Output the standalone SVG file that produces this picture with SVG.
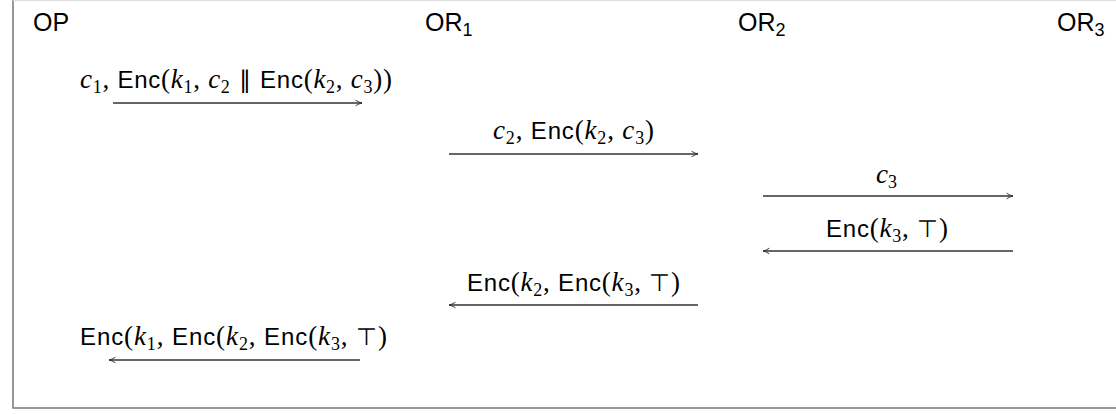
<svg xmlns="http://www.w3.org/2000/svg" width="1116" height="414" viewBox="0 0 1116 414">
<defs>
<style>
.party{font-family:"Liberation Sans",Arial,sans-serif;font-size:25px;fill:#000}
.lbl{font-family:"Liberation Sans",Arial,sans-serif;font-size:24px;fill:#000}
.m{font-family:"Liberation Serif","Times New Roman",serif;font-style:italic;font-size:27px}
.r{font-family:"Liberation Serif","Times New Roman",serif;font-size:27px}
.sub{font-size:18px}
.bar{font-family:"DejaVu Sans",sans-serif;font-size:24px}
.conn line{stroke:#333;stroke-width:1.3;fill:none}
</style>
<marker id="ah" viewBox="0 0 10 10" refX="9" refY="5" markerWidth="8" markerHeight="8" markerUnits="userSpaceOnUse" orient="auto-start-reverse">
<path d="M1,1.5 Q5,4.2 9,5 Q5,5.8 1,8.5" fill="none" stroke="#333" stroke-width="1.2"/>
</marker>
</defs>
<rect x="0" y="0" width="1116" height="414" fill="#fff"/>
<path d="M13,0 V408 H1116" fill="none" stroke="#777" stroke-width="1.5"/>
<path d="M13,0.5 H1116" fill="none" stroke="#ddd" stroke-width="1"/>

<g id="OP"><text class="party" x="33" y="31">OP</text></g>
<g id="OR1"><text class="party" x="425" y="31">OR<tspan class="sub" dy="5">1</tspan></text></g>
<g id="OR2"><text class="party" x="738" y="31">OR<tspan class="sub" dy="5">2</tspan></text></g>
<g id="OR3"><text class="party" x="1057" y="31">OR<tspan class="sub" dy="5">3</tspan></text></g>

<g id="connectors" class="conn">
<line x1="113" y1="103" x2="362" y2="103" marker-end="url(#ah)"/>
<line x1="449" y1="154" x2="698" y2="154" marker-end="url(#ah)"/>
<line x1="763" y1="196" x2="1013" y2="196" marker-end="url(#ah)"/>
<line x1="1013" y1="251" x2="763" y2="251" marker-end="url(#ah)"/>
<line x1="698" y1="305" x2="449" y2="305" marker-end="url(#ah)"/>
<line x1="360" y1="360" x2="109" y2="360" marker-end="url(#ah)"/>
</g>

<g id="labels">
<text class="lbl" x="80" y="88" textLength="312" lengthAdjust="spacing"><tspan class="m">c</tspan><tspan class="r sub" dy="5">1</tspan><tspan class="r" dy="-5">, </tspan>Enc<tspan class="r">(</tspan><tspan class="m">k</tspan><tspan class="r sub" dy="5">1</tspan><tspan class="r" dy="-5">, </tspan><tspan class="m">c</tspan><tspan class="r sub" dy="5">2</tspan><tspan class="bar" dy="-5"> ∥ </tspan>Enc<tspan class="r">(</tspan><tspan class="m">k</tspan><tspan class="r sub" dy="5">2</tspan><tspan class="r" dy="-5">, </tspan><tspan class="m">c</tspan><tspan class="r sub" dy="5">3</tspan><tspan class="r" dy="-5">))</tspan></text>
<text class="lbl" x="493" y="139" textLength="161" lengthAdjust="spacing"><tspan class="m">c</tspan><tspan class="r sub" dy="5">2</tspan><tspan class="r" dy="-5">, </tspan>Enc<tspan class="r">(</tspan><tspan class="m">k</tspan><tspan class="r sub" dy="5">2</tspan><tspan class="r" dy="-5">, </tspan><tspan class="m">c</tspan><tspan class="r sub" dy="5">3</tspan><tspan class="r" dy="-5">)</tspan></text>
<text class="lbl" x="876" y="183"><tspan class="m">c</tspan><tspan class="r sub" dy="5">3</tspan></text>
<text class="lbl" x="826" y="237" textLength="122" lengthAdjust="spacing">Enc<tspan class="r">(</tspan><tspan class="m">k</tspan><tspan class="r sub" dy="5">3</tspan><tspan class="r" dy="-5">, </tspan>⊤<tspan class="r">)</tspan></text>
<text class="lbl" x="467" y="291" textLength="213" lengthAdjust="spacing">Enc<tspan class="r">(</tspan><tspan class="m">k</tspan><tspan class="r sub" dy="5">2</tspan><tspan class="r" dy="-5">, </tspan>Enc<tspan class="r">(</tspan><tspan class="m">k</tspan><tspan class="r sub" dy="5">3</tspan><tspan class="r" dy="-5">, </tspan>⊤<tspan class="r">)</tspan></text>
<text class="lbl" x="80" y="345" textLength="307" lengthAdjust="spacing">Enc<tspan class="r">(</tspan><tspan class="m">k</tspan><tspan class="r sub" dy="5">1</tspan><tspan class="r" dy="-5">, </tspan>Enc<tspan class="r">(</tspan><tspan class="m">k</tspan><tspan class="r sub" dy="5">2</tspan><tspan class="r" dy="-5">, </tspan>Enc<tspan class="r">(</tspan><tspan class="m">k</tspan><tspan class="r sub" dy="5">3</tspan><tspan class="r" dy="-5">, </tspan>⊤<tspan class="r">)</tspan></text>
</g>
</svg>
